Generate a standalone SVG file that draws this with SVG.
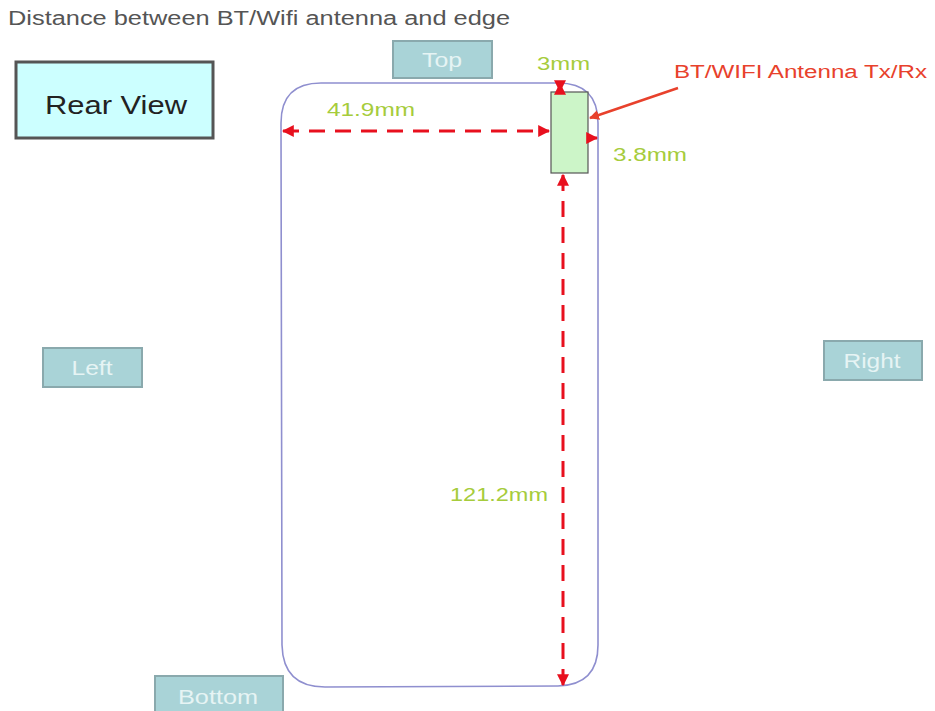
<svg xmlns="http://www.w3.org/2000/svg" width="935" height="711" viewBox="0 0 935 711">
<defs>
<style>
.t{font-family:"Liberation Sans",Arial,sans-serif}
.dim{fill:#a6cc3c;font-size:18px}
.tag rect{fill:#a9d3d7;stroke:#8aa9ad;stroke-width:2}
.tag text{fill:#e6f4f4;font-size:20px;text-anchor:middle}
.dash{stroke:#e8101e;stroke-width:3;fill:none;stroke-dasharray:16 10}
.solid{stroke:#e8101e;stroke-width:3;fill:none}
</style>
<marker id="ar" viewBox="0 0 10 10" refX="9" refY="5" markerWidth="4" markerHeight="4" orient="auto-start-reverse" markerUnits="strokeWidth">
<path d="M0,0 L10,5 L0,10 z" fill="#e8101e"/>
</marker>
<marker id="ao" viewBox="0 0 10 10" refX="9" refY="5" markerWidth="4" markerHeight="4" orient="auto" markerUnits="strokeWidth">
<path d="M0,0 L10,5 L0,10 z" fill="#e8412c"/>
</marker>
</defs>
<rect width="935" height="711" fill="#ffffff"/>
<text class="t" x="8" y="25" font-size="20" fill="#555555" textLength="502" lengthAdjust="spacingAndGlyphs">Distance between BT/Wifi antenna and edge</text>

<g id="rear-view">
<rect x="16" y="62" width="197" height="76" fill="#ccffff" stroke="#555555" stroke-width="3"/>
<text class="t" x="45" y="114" font-size="26" fill="#222222" textLength="142" lengthAdjust="spacingAndGlyphs">Rear View</text>
</g>

<g id="phone">
<path d="M321,83 L558,83 Q598,83 598,123 L598,645 Q598,685 558,686 L325,687 Q283,687 282,645 L281,123 Q281,83 321,83 Z" fill="none" stroke="#8f8fcf" stroke-width="1.6"/>
</g>

<g id="top" class="tag">
<rect x="393" y="41" width="99" height="37"/>
<text class="t" x="442" y="67" textLength="40" lengthAdjust="spacingAndGlyphs">Top</text>
</g>
<g id="left" class="tag">
<rect x="43" y="348" width="99" height="39"/>
<text class="t" x="92" y="375" textLength="41" lengthAdjust="spacingAndGlyphs">Left</text>
</g>
<g id="right" class="tag">
<rect x="824" y="341" width="98" height="39"/>
<text class="t" x="872" y="368" textLength="57" lengthAdjust="spacingAndGlyphs">Right</text>
</g>
<g id="bottom" class="tag">
<rect x="155" y="676" width="128" height="40"/>
<text class="t" x="218" y="704" textLength="80" lengthAdjust="spacingAndGlyphs">Bottom</text>
</g>

<g id="antenna">
<rect x="551" y="92" width="37" height="81" fill="#ccf5c8" stroke="#555555" stroke-width="1.2"/>
</g>

<g id="connectors">
<line class="dash" x1="283" y1="131" x2="549" y2="131" marker-start="url(#ar)" marker-end="url(#ar)"/>
<line class="solid" x1="560" y1="84" x2="560" y2="91" marker-start="url(#ar)" marker-end="url(#ar)"/>
<line class="solid" x1="589" y1="138" x2="597" y2="138" marker-end="url(#ar)"/>
<line class="dash" x1="563" y1="175" x2="563" y2="685" marker-start="url(#ar)" marker-end="url(#ar)"/>
<line x1="678" y1="88" x2="590" y2="118" stroke="#e8412c" stroke-width="2.5" marker-end="url(#ao)"/>
</g>

<text class="t dim" x="327" y="116" textLength="88" lengthAdjust="spacingAndGlyphs">41.9mm</text>
<text class="t dim" x="537" y="70" textLength="53" lengthAdjust="spacingAndGlyphs">3mm</text>
<text class="t dim" x="613" y="161" textLength="74" lengthAdjust="spacingAndGlyphs">3.8mm</text>
<text class="t dim" x="450" y="501" textLength="98" lengthAdjust="spacingAndGlyphs">121.2mm</text>
<text class="t" x="674" y="78" font-size="18" fill="#e8412c" textLength="253" lengthAdjust="spacingAndGlyphs">BT/WIFI Antenna Tx/Rx</text>
</svg>
